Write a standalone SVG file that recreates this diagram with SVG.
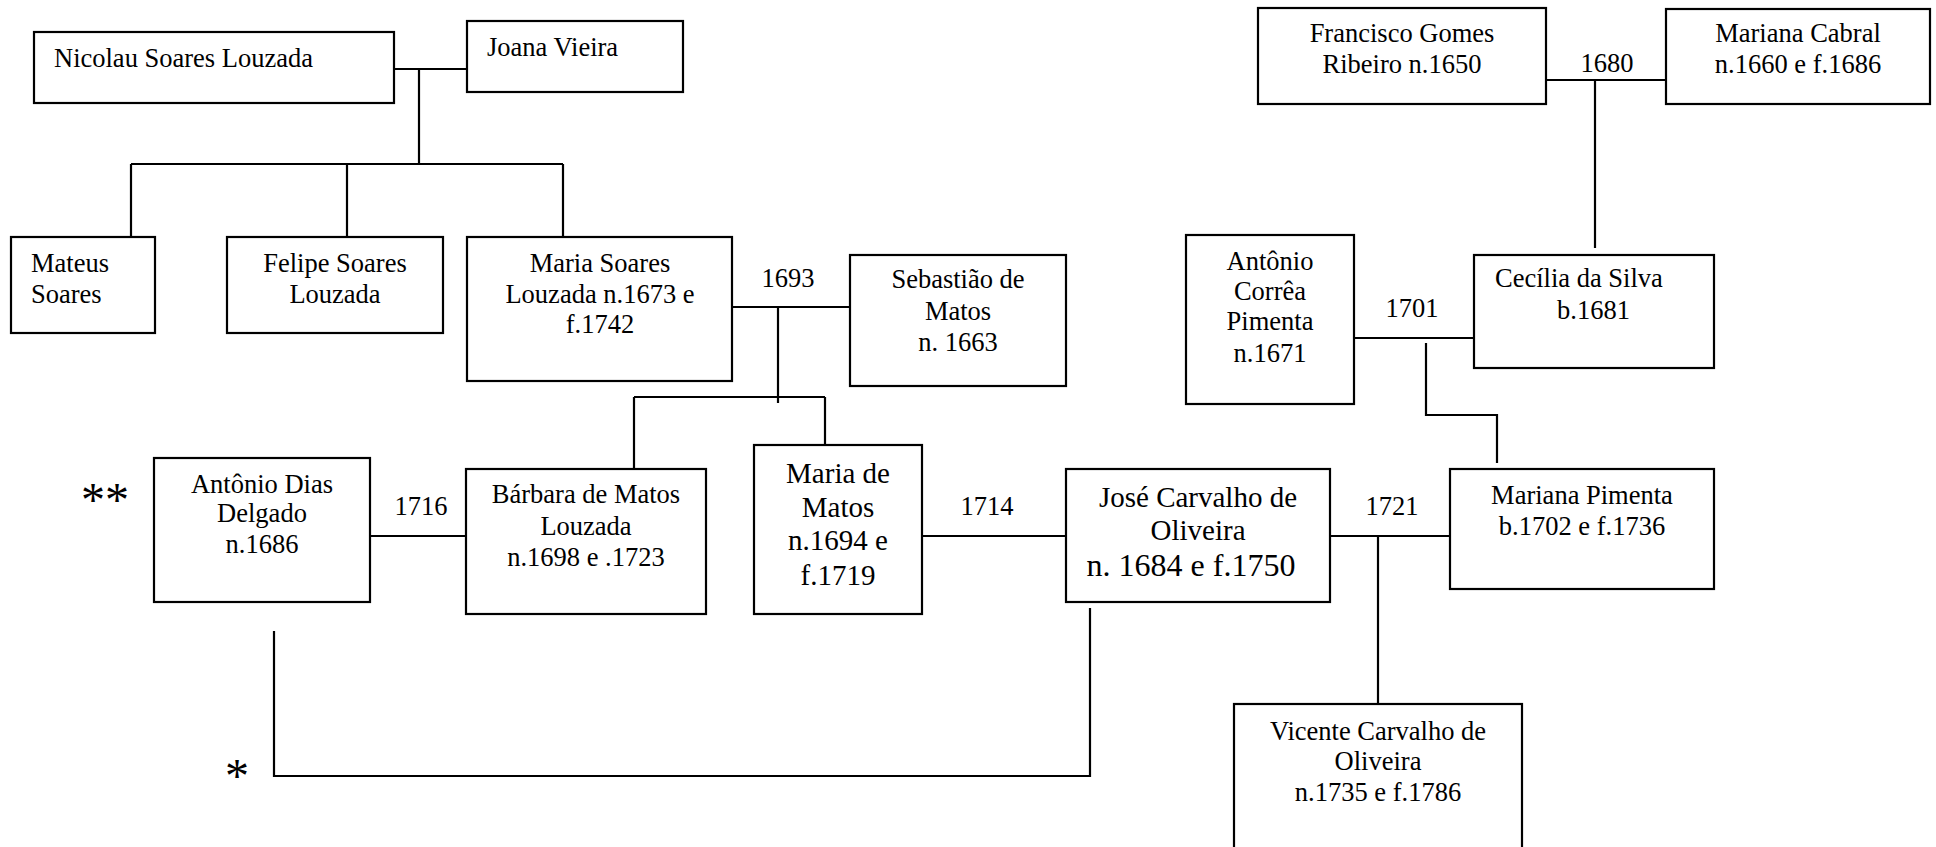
<svg xmlns="http://www.w3.org/2000/svg" width="1936" height="847" viewBox="0 0 1936 847">
  <style>
    .box { fill: #ffffff; stroke: #000000; stroke-width: 2.2; }
    .ln { fill: none; stroke: #000000; stroke-width: 2.2; }
    text { font-family: "Liberation Serif", "Times New Roman", serif; font-size: 26.5px; fill: #000000; }
    .c { text-anchor: middle; }
    .big { font-size: 29px; }
    .bigger { font-size: 32px; }
    .star { font-size: 48px; }
  </style>
  <rect x="0" y="0" width="1936" height="847" fill="#ffffff"/>

  <!-- family lines -->
  <g id="connectors">
    <!-- Nicolau + Joana and children -->
    <path class="ln" d="M394 69 H467"/>
    <path class="ln" d="M419 69 V164"/>
    <path class="ln" d="M131 164 H563"/>
    <path class="ln" d="M131 164 V237 M347 164 V237 M563 164 V237"/>
    <!-- Maria Soares + Sebastião and children -->
    <path class="ln" d="M732 307 H850"/>
    <path class="ln" d="M778 307 V403"/>
    <path class="ln" d="M634 397 H825"/>
    <path class="ln" d="M634 397 V469 M825 397 V445"/>
    <!-- Francisco + Mariana Cabral -->
    <path class="ln" d="M1546 80 H1666"/>
    <path class="ln" d="M1595 80 V248"/>
    <!-- Antônio Corrêa + Cecília -->
    <path class="ln" d="M1354 338 H1474"/>
    <path class="ln" d="M1426 343 V415 H1497 V463"/>
    <!-- marriages of the lower row -->
    <path class="ln" d="M370 536 H466"/>
    <path class="ln" d="M922 536 H1066"/>
    <path class="ln" d="M1330 536 H1450"/>
    <path class="ln" d="M1378 536 V704"/>
    <!-- link from Antônio Dias to José -->
    <path class="ln" d="M274 631 V776 H1090 V608"/>
  </g>

  <g id="nicolau">
    <rect class="box" x="34" y="32" width="360" height="71"/>
    <text x="54" y="67">Nicolau Soares Louzada</text>
  </g>
  <g id="joana">
    <rect class="box" x="467" y="21" width="216" height="71"/>
    <text x="487" y="56">Joana Vieira</text>
  </g>
  <g id="mateus">
    <rect class="box" x="11" y="237" width="144" height="96"/>
    <text x="31" y="272">Mateus</text>
    <text x="31" y="303">Soares</text>
  </g>
  <g id="felipe">
    <rect class="box" x="227" y="237" width="216" height="96"/>
    <text class="c" x="335" y="272">Felipe Soares</text>
    <text class="c" x="335" y="303">Louzada</text>
  </g>
  <g id="maria-soares">
    <rect class="box" x="467" y="237" width="265" height="144"/>
    <text class="c" x="600" y="272">Maria Soares</text>
    <text class="c" x="600" y="303">Louzada n.1673 e</text>
    <text class="c" x="600" y="333">f.1742</text>
  </g>
  <g id="sebastiao">
    <rect class="box" x="850" y="255" width="216" height="131"/>
    <text class="c" x="958" y="288">Sebastião de</text>
    <text class="c" x="958" y="320">Matos</text>
    <text class="c" x="958" y="351">n. 1663</text>
  </g>
  <g id="francisco">
    <rect class="box" x="1258" y="8" width="288" height="96"/>
    <text class="c" x="1402" y="42">Francisco Gomes</text>
    <text class="c" x="1402" y="73">Ribeiro n.1650</text>
  </g>
  <g id="mariana-cabral">
    <rect class="box" x="1666" y="9" width="264" height="95"/>
    <text class="c" x="1798" y="42">Mariana Cabral</text>
    <text class="c" x="1798" y="73">n.1660 e f.1686</text>
  </g>
  <g id="antonio-correa">
    <rect class="box" x="1186" y="235" width="168" height="169"/>
    <text class="c" x="1270" y="270">Antônio</text>
    <text class="c" x="1270" y="300">Corrêa</text>
    <text class="c" x="1270" y="330">Pimenta</text>
    <text class="c" x="1270" y="362">n.1671</text>
  </g>
  <g id="cecilia">
    <rect class="box" x="1474" y="255" width="240" height="113"/>
    <text x="1495" y="287">Cecília da Silva</text>
    <text x="1557" y="319">b.1681</text>
  </g>
  <g id="antonio-dias">
    <rect class="box" x="154" y="458" width="216" height="144"/>
    <text class="c" x="262" y="493">Antônio Dias</text>
    <text class="c" x="262" y="522">Delgado</text>
    <text class="c" x="262" y="553">n.1686</text>
  </g>
  <g id="barbara">
    <rect class="box" x="466" y="469" width="240" height="145"/>
    <text class="c" x="586" y="503">Bárbara de Matos</text>
    <text class="c" x="586" y="535">Louzada</text>
    <text class="c" x="586" y="566">n.1698 e .1723</text>
  </g>
  <g id="maria-matos">
    <rect class="box" x="754" y="445" width="168" height="169"/>
    <text class="c big" x="838" y="483">Maria de</text>
    <text class="c big" x="838" y="517">Matos</text>
    <text class="c big" x="838" y="550">n.1694 e</text>
    <text class="c big" x="838" y="585">f.1719</text>
  </g>
  <g id="jose">
    <rect class="box" x="1066" y="469" width="264" height="133"/>
    <text class="c big" x="1198" y="507">José Carvalho de</text>
    <text class="c big" x="1198" y="540">Oliveira</text>
    <text class="c bigger" x="1191" y="576">n. 1684 e f.1750</text>
  </g>
  <g id="mariana-pimenta">
    <rect class="box" x="1450" y="469" width="264" height="120"/>
    <text class="c" x="1582" y="504">Mariana Pimenta</text>
    <text class="c" x="1582" y="535">b.1702 e f.1736</text>
  </g>
  <g id="vicente">
    <rect class="box" x="1234" y="704" width="288" height="170"/>
    <text class="c" x="1378" y="740">Vicente Carvalho de</text>
    <text class="c" x="1378" y="770">Oliveira</text>
    <text class="c" x="1378" y="801">n.1735 e f.1786</text>
  </g>

  <!-- marriage years -->
  <g id="years">
    <text class="c" x="788" y="287">1693</text>
    <text class="c" x="1607" y="72">1680</text>
    <text class="c" x="1412" y="317">1701</text>
    <text class="c" x="421" y="515">1716</text>
    <text class="c" x="987" y="515">1714</text>
    <text class="c" x="1392" y="515">1721</text>
  </g>

  <!-- markers -->
  <g id="notes">
    <text class="star" x="81" y="516">**</text>
    <text class="star" x="225" y="792">*</text>
  </g>
</svg>
